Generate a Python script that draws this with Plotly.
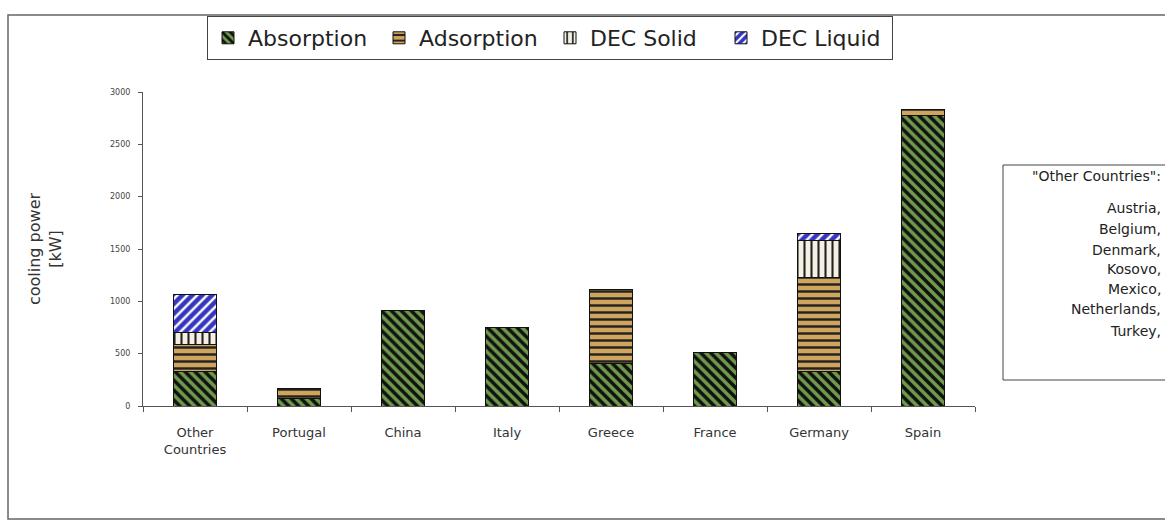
import plotly.graph_objects as go

countries = ["Other<br>Countries", "Portugal", "China", "Italy", "Greece", "France", "Germany", "Spain"]
absorption = [330, 75, 910, 750, 410, 510, 330, 2780]
adsorption = [260, 95, 0, 0, 700, 0, 900, 50]
dec_solid = [110, 0, 0, 0, 0, 0, 350, 0]
dec_liquid = [370, 0, 0, 0, 0, 0, 70, 0]
y_ticks = [0, 500, 1000, 1500, 2000, 2500, 3000]
other_list = ['"Other Countries":', "Austria,", "Belgium,", "Denmark,", "Kosovo,", "Mexico,", "Netherlands,", "Turkey,"]

W, H = 1165, 525
L, R, T, B = 143, 190, 92, 119
pw, ph = W - L - R, H - T - B

def px(x):
    return (x - L) / pw

def py(y):
    return (H - B - y) / ph

FONT = "DejaVu Sans, Liberation Sans, Arial, sans-serif"

fig = go.Figure()
series = [
    ("Absorption", absorption, "#6f9a4c", "#111111", "\\", 0.5),
    ("Adsorption", adsorption, "#cfa45c", "#222222", "-", 0.35),
    ("DEC Solid", dec_solid, "#f4f0e4", "#222222", "|", 0.3),
    ("DEC Liquid", dec_liquid, "#3535c0", "#ffffff", "/", 0.35),
]
for name, vals, bg, fg, shape, sol in series:
    fig.add_trace(go.Bar(
        name=name, x=countries, y=vals, width=0.42,
        marker=dict(color=bg, line=dict(color="#111111", width=1),
                    pattern=dict(shape=shape, bgcolor=bg, fgcolor=fg,
                                 size=7, solidity=sol, fillmode="replace")),
    ))

fig.update_layout(
    width=W, height=H, barmode="stack",
    margin=dict(l=L, r=R, t=T, b=B),
    paper_bgcolor="white", plot_bgcolor="white",
    font=dict(family=FONT, color="#333333"),
    legend=dict(orientation="h", x=px(207), y=py(16), xanchor="left", yanchor="top",
                bordercolor="#444444", borderwidth=1, bgcolor="white",
                font=dict(size=22, color="#222222"), itemwidth=30,
                entrywidth=126, entrywidthmode="pixels",
                traceorder="normal"),
    xaxis=dict(type="category", showline=True, linecolor="#555555", linewidth=1,
               ticks="outside", tickson="boundaries", ticklen=5, tickcolor="#555555",
               tickfont=dict(size=13, color="#333333"), showgrid=False,
               ticklabelstandoff=14),
    yaxis=dict(range=[0, 3000], tickvals=y_ticks, showline=True, linecolor="#555555",
               linewidth=1, ticks="outside", ticklen=4, tickcolor="#555555",
               tickfont=dict(size=8, color="#444444"), showgrid=False, zeroline=False,
               ticklabelstandoff=6,
               title=dict(text="cooling power<br>[kW]", font=dict(size=16, color="#333333"),
                          standoff=44)),
)

# outer frame
fig.add_shape(type="rect", xref="paper", yref="paper",
              x0=px(8), x1=px(1180), y0=py(519), y1=py(15),
              line=dict(color="#666666", width=1.5), layer="below")
# other countries box
fig.add_shape(type="rect", xref="paper", yref="paper",
              x0=px(1003), x1=px(1180), y0=py(380), y1=py(165),
              line=dict(color="#444444", width=1), fillcolor="white")
ys = [176, 208, 229, 250, 269, 289, 309, 331]
for t, yy in zip(other_list, ys):
    fig.add_annotation(text=t, xref="paper", yref="paper", x=px(1163), y=py(yy),
                       xanchor="right", yanchor="middle", showarrow=False,
                       font=dict(size=14, color="#222222"))

fig.write_html("out.html", config={"displayModeBar": False},
               post_script="document.body.style.margin='0';document.body.style.overflow='hidden';")
